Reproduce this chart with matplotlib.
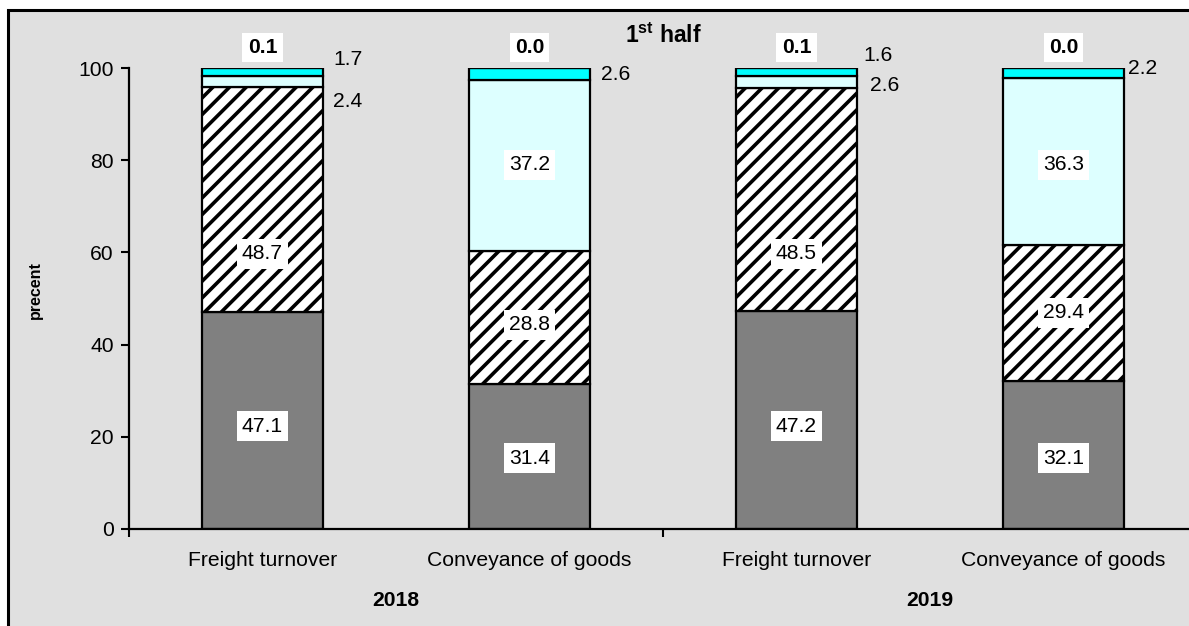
import matplotlib
matplotlib.use("Agg")
import matplotlib.pyplot as plt
from matplotlib.patches import Rectangle

plt.rcParams["font.family"] = ["Liberation Sans", "DejaVu Sans"]
plt.rcParams["mathtext.fontset"] = "custom"
plt.rcParams["mathtext.rm"] = "Liberation Sans"
plt.rcParams["mathtext.bf"] = "Liberation Sans:bold"
plt.rcParams["hatch.linewidth"] = 2.6

# ---- data -------------------------------------------------------------
categories = ["Freight turnover", "Conveyance of goods",
              "Freight turnover", "Conveyance of goods"]
years = ["2018", "2019"]
series_1 = [47.1, 31.4, 47.2, 32.1]   # dark grey
series_2 = [48.7, 28.8, 48.5, 29.4]   # hatched
series_3 = [2.4, 37.2, 2.6, 36.3]     # light turquoise
series_4 = [1.7, 2.6, 1.6, 2.2]       # turquoise
series_5 = [0.1, 0.0, 0.1, 0.0]       # remainder
y_ticks = [0, 20, 40, 60, 80, 100]
title_text = r"$\mathbf{1^{st}}$ half"
y_label = "precent"

# ---- layout -----------------------------------------------------------
W, H, DPI = 1189, 626, 100
FS = 15.2
fig = plt.figure(figsize=(W / DPI, H / DPI), dpi=DPI, facecolor="white")

# grey chart area with black frame (right/bottom edges fall outside)
frame = Rectangle((8 / W, -1.0), 3.0, 2.0 - 10 / H,
                  transform=fig.transFigure, facecolor="#E0E0E0",
                  edgecolor="black", linewidth=2.2, zorder=-10)
fig.patches.append(frame)

ax_left, ax_bottom = 129 / W, (H - 529) / H
ax = fig.add_axes([ax_left, ax_bottom, 1068 / W, 461 / H])
ax.set_facecolor("none")
ax.set_zorder(1)

x = [i + 0.5 for i in range(len(categories))]
bar_w = 0.453
edge = dict(edgecolor="black", linewidth=1.6)

b1 = series_1
b2 = [a + b for a, b in zip(b1, series_2)]
b3 = [a + b for a, b in zip(b2, series_3)]
b4 = [a + b for a, b in zip(b3, series_4)]

ax.bar(x, series_1, bar_w, color="#808080", **edge, zorder=2)
ax.bar(x, series_2, bar_w, bottom=b1, color="white", hatch="//", **edge, zorder=2)
ax.bar(x, series_3, bar_w, bottom=b2, color="#DDFFFF", **edge, zorder=2)
ax.bar(x, series_4, bar_w, bottom=b3, color="#00FFFF", **edge, zorder=2)
ax.bar(x, series_5, bar_w, bottom=b4, color="white", **edge, zorder=2)

ax.set_xlim(0, 4)
ax.set_ylim(0, 100)
ax.set_yticks(y_ticks)
ax.set_xticks([0, 2, 4])
ax.set_xticklabels([])
ax.tick_params(axis="both", direction="out", length=6, width=1.5,
               labelsize=FS, colors="black")
ax.tick_params(axis="y", pad=5)
for s in ("top", "right"):
    ax.spines[s].set_visible(False)
for s in ("left", "bottom"):
    ax.spines[s].set_linewidth(1.6)

ax.set_ylabel(y_label, fontsize=11.5, fontweight="bold")
ax.yaxis.set_label_coords(-0.0805, 0.518)

# category and year labels
for xi, c in zip(x, categories):
    ax.text(xi, -6.8, c, ha="center", va="center", fontsize=FS, clip_on=False)
for gi, yr in enumerate(years):
    ax.text(1 + 2 * gi, -15.5, yr, ha="center", va="center", fontsize=FS,
            fontweight="bold", clip_on=False)

ax.text(2, 107.0, title_text, ha="center", va="center", fontsize=16.5,
        fontweight="bold", clip_on=False)

# value labels inside bars (white boxes)
box = dict(boxstyle="square,pad=0.25", facecolor="white", edgecolor="none")
inner_y_1 = [22.3, 15.4, 22.3, 15.4]
inner_y_2 = [59.7, 44.3, 59.7, 46.9]
inner_y_3 = [None, 79.0, None, 79.0]
for i, xi in enumerate(x):
    ax.text(xi, inner_y_1[i], f"{series_1[i]:.1f}", ha="center", va="center",
            fontsize=FS, bbox=box, zorder=4)
    ax.text(xi, inner_y_2[i], f"{series_2[i]:.1f}", ha="center", va="center",
            fontsize=FS, bbox=box, zorder=4)
    if inner_y_3[i] is not None:
        ax.text(xi, inner_y_3[i], f"{series_3[i]:.1f}", ha="center", va="center",
                fontsize=FS, bbox=box, zorder=4)
    ax.text(xi, 104.4, f"{series_5[i]:.1f}", ha="center", va="center",
            fontsize=FS, fontweight="bold", bbox=box, zorder=4, clip_on=False)

# small values written beside the bars
px = 1 / 267.0
side_3 = {0: (10, 92.7), 2: (13, 96.3)}
side_4 = {0: (10, 101.8), 1: (11, 98.6), 2: (6, 102.8), 3: (4, 99.9)}
for i, (dx, yy) in side_3.items():
    ax.text(x[i] + bar_w / 2 + dx * px, yy, f"{series_3[i]:.1f}", ha="left",
            va="center", fontsize=FS, clip_on=False, zorder=4)
for i, (dx, yy) in side_4.items():
    ax.text(x[i] + bar_w / 2 + dx * px, yy, f"{series_4[i]:.1f}", ha="left",
            va="center", fontsize=FS, clip_on=False, zorder=4)

fig.savefig("out.png", dpi=DPI, facecolor="white")
